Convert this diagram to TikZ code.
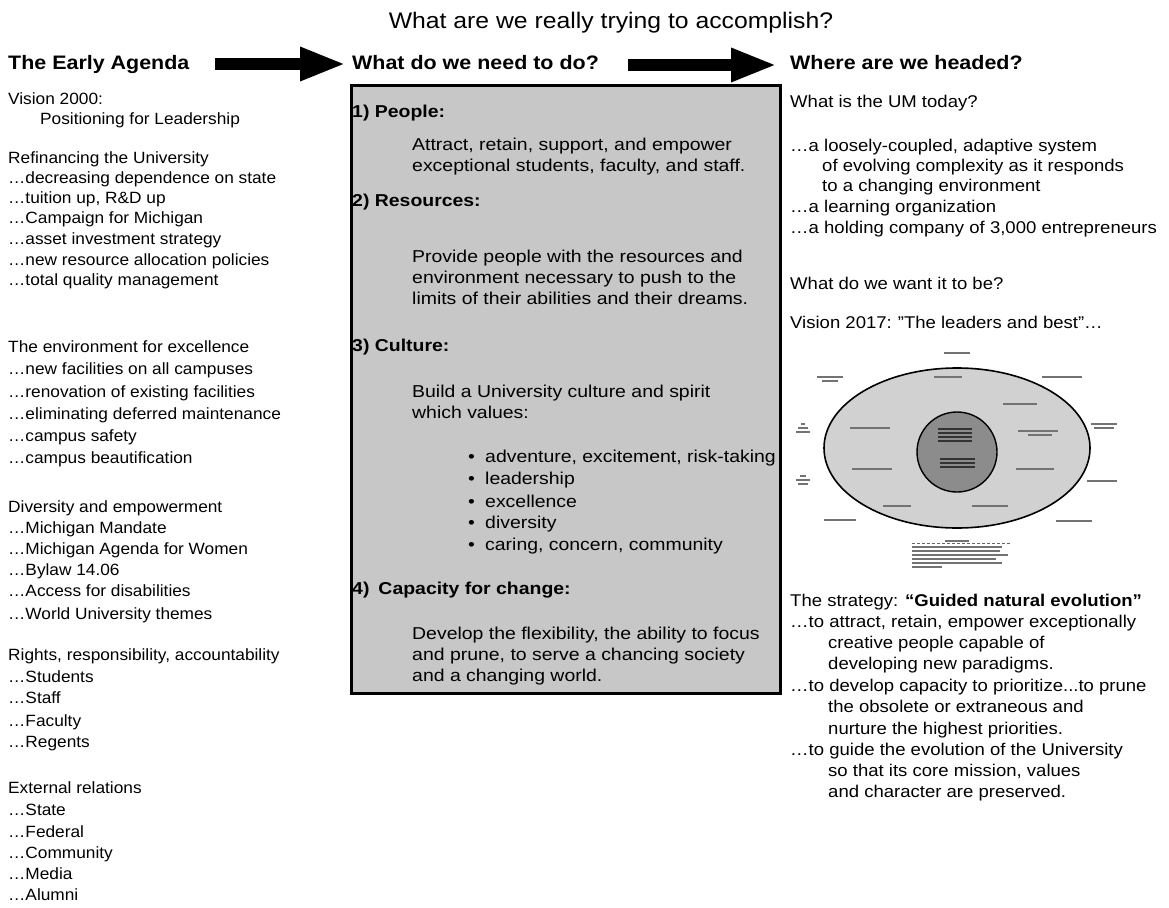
\documentclass[tikz,border=0pt]{standalone}
\usepackage{fontspec}
\setmainfont{Liberation Sans}
\newfontfamily\lfont[FakeStretch=1.06]{Liberation Sans}
\newfontfamily\mfont[FakeStretch=1.13]{Liberation Sans}
\newfontfamily\rfont[FakeStretch=1.09]{Liberation Sans}
\newfontfamily\hfont[FakeStretch=1.1]{Liberation Sans}
\usetikzlibrary{arrows.meta}
\begin{document}
\begin{tikzpicture}[x=1pt,y=-1pt,
  txt/.style={anchor=base west, inner sep=0pt, font=\lfont\fontsize{16.3}{19}\selectfont},
  rtxt/.style={anchor=base west, inner sep=0pt, font=\rfont\fontsize{17}{19}\selectfont},
  mtxt/.style={anchor=base west, inner sep=0pt, font=\mfont\fontsize{17.2}{19}\selectfont},
  mhd/.style={anchor=base west, inner sep=0pt, font=\mfont\fontsize{17.2}{19}\selectfont\bfseries},
  hd/.style={anchor=base west, inner sep=0pt, font=\hfont\fontsize{19.5}{22}\selectfont\bfseries},
  ttl/.style={anchor=base, inner sep=0pt, font=\hfont\fontsize{22.5}{26}\selectfont},
  bigarrow/.style={line width=12pt, -{Triangle[length=46pt,width=31pt]}},
  panel/.style={draw=black, line width=2.5pt, fill=black!22, anchor=north west, inner sep=0pt},
  scrib/.style={fill=black!55, draw=none},
]
\useasboundingbox (0,0) rectangle (1169,907);
\fill[white] (0,0) rectangle (1169,907);

% title
\node[ttl] (title) at (611,29) {What are we really trying to accomplish?};

% headings
\node[hd] (hA) at (8,70) {The Early Agenda};
\node[hd] (hB) at (352,70) {What do we need to do?};
\node[hd] (hC) at (790,70) {Where are we headed?};

% arrows
\coordinate (a1s) at (215,64);
\coordinate (a1e) at (346,64);
\coordinate (a2s) at (628,65);
\coordinate (a2e) at (777,65);
\draw[bigarrow] (a1s) -- (a1e);
\draw[bigarrow] (a2s) -- (a2e);

% left column
\foreach \yy/\xx/\tt [count=\i] in {
  104/8/{Vision 2000:},
  124/40/{Positioning for Leadership},
  163/8/{Refinancing the University},
  183/8/{…decreasing dependence on state},
  203/8/{…tuition up, R\&D up},
  223/8/{…Campaign for Michigan},
  244/8/{…asset investment strategy},
  265/8/{…new resource allocation policies},
  285/8/{…total quality management},
  352/8/{The environment for excellence},
  374/8/{…new facilities on all campuses},
  397/8/{…renovation of existing facilities},
  419/8/{…eliminating deferred maintenance},
  441/8/{…campus safety},
  463/8/{…campus beautification},
  512/8/{Diversity and empowerment},
  533/8/{…Michigan Mandate},
  554/8/{…Michigan Agenda for Women},
  575/8/{…Bylaw 14.06},
  596/8/{…Access for disabilities},
  619/8/{…World University themes},
  660/8/{Rights, responsibility, accountability},
  682/8/{…Students},
  703/8/{…Staff},
  726/8/{…Faculty},
  747/8/{…Regents},
  793/8/{External relations},
  815/8/{…State},
  837/8/{…Federal},
  858/8/{…Community},
  879/8/{…Media},
  900/8/{…Alumni}}
  \node[txt] (L\i) at (\xx,\yy) {\tt};

% middle panel
\node[panel, minimum width=429pt, minimum height=608pt] (box) at (350,84) {};
\node[mhd] (p1) at (352,117) {1) People:};
\node[mtxt] (p1a) at (412,150) {Attract, retain, support, and empower};
\node[mtxt] (p1b) at (412,171) {exceptional students, faculty, and staff.};
\node[mhd] (p2) at (352,206) {2) Resources:};
\node[mtxt] (p2a) at (412,262) {Provide people with the resources and};
\node[mtxt] (p2b) at (412,283) {environment necessary to push to the};
\node[mtxt] (p2c) at (412,304) {limits of their abilities and their dreams.};
\node[mhd] (p3) at (352,351) {3) Culture:};
\node[mtxt] (p3a) at (412,397) {Build a University culture and spirit};
\node[mtxt] (p3b) at (412,418) {which values:};
\foreach \yy/\tt [count=\i] in {
  462/{adventure, excitement, risk-taking},
  484/{leadership},
  507/{excellence},
  528/{diversity},
  550/{caring, concern, community}}
{
  \node[mtxt] (bu\i) at (468,\yy) {•};
  \node[mtxt] (bt\i) at (485,\yy) {\tt};
}
\node[mhd] (p4) at (352,594) {4)\hspace{9pt}Capacity for change:};
\node[mtxt] (p4a) at (412,639) {Develop the flexibility, the ability to focus};
\node[mtxt] (p4b) at (412,660) {and prune, to serve a chancing society};
\node[mtxt] (p4c) at (412,681) {and a changing world.};

% right column
\node[rtxt] (r1) at (790,107) {What is the UM today?};
\node[rtxt] (r2) at (790,151) {…a loosely-coupled, adaptive system};
\node[rtxt] (r3) at (822,171) {of evolving complexity as it responds};
\node[rtxt] (r4) at (822,191) {to a changing environment};
\node[rtxt] (r5) at (790,212) {…a learning organization};
\node[rtxt] (r6) at (790,233) {…a holding company of 3,000 entrepreneurs};
\node[rtxt] (r7) at (790,289) {What do we want it to be?};
\node[rtxt] (r8) at (790,328) {Vision 2017:\hspace{6pt}”The leaders and best”…};

% Vision 2017 figure
\draw[line width=1.6pt, fill=black!18] (957,448) ellipse [x radius=133, y radius=80];
\draw[line width=1.4pt, fill=black!45] (957,452) circle [radius=40];
% illegible small labels shown as text smudges
\foreach \x/\y/\w in {
  957/353/26, 830/377/26, 830/381/16, 948/377/28, 1062/377/40,
  1020/404/34, 803/424/4, 803/428/10, 803/432/14, 870/428/40,
  1038/431/40, 1040/435/24, 1104/424/26, 1104/428/20,
  803/476/6, 803/480/14, 803/484/10, 872/469/40, 1035/469/38,
  1102/481/30, 897/506/28, 990/506/36, 840/520/32, 1074/521/36,
  957/541/24}
  \fill[scrib] (\x-\w/2,\y-1.2) rectangle (\x+\w/2,\y+1.2);
\foreach \y/\w in {547/90, 551/88, 555/96, 559/84, 563/90, 567/30}
  \fill[scrib] (912,\y-1) rectangle (912+\w,\y+1);
\draw[black!60, densely dashed, line width=0.6pt] (912,543.5) -- (1010,543.5);
\foreach \y in {459,463,467} \fill[black!80] (940,\y-1) rectangle (975,\y+1);
\foreach \y in {429,433,437,441} \fill[black!80] (938,\y-1) rectangle (972,\y+1);

\node[rtxt] (s0) at (790,606) {The strategy: \textbf{“Guided natural evolution”}};
\node[rtxt] (s1) at (790,627) {…to attract, retain, empower exceptionally};
\node[rtxt] (s2) at (828,648) {creative people capable of};
\node[rtxt] (s3) at (828,669) {developing new paradigms.};
\node[rtxt] (s4) at (790,691) {…to develop capacity to prioritize...to prune};
\node[rtxt] (s5) at (828,712) {the obsolete or extraneous and};
\node[rtxt] (s6) at (828,734) {nurture the highest priorities.};
\node[rtxt] (s7) at (790,755) {…to guide the evolution of the University};
\node[rtxt] (s8) at (828,776) {so that its core mission, values};
\node[rtxt] (s9) at (828,797) {and character are preserved.};
\end{tikzpicture}
\end{document}
